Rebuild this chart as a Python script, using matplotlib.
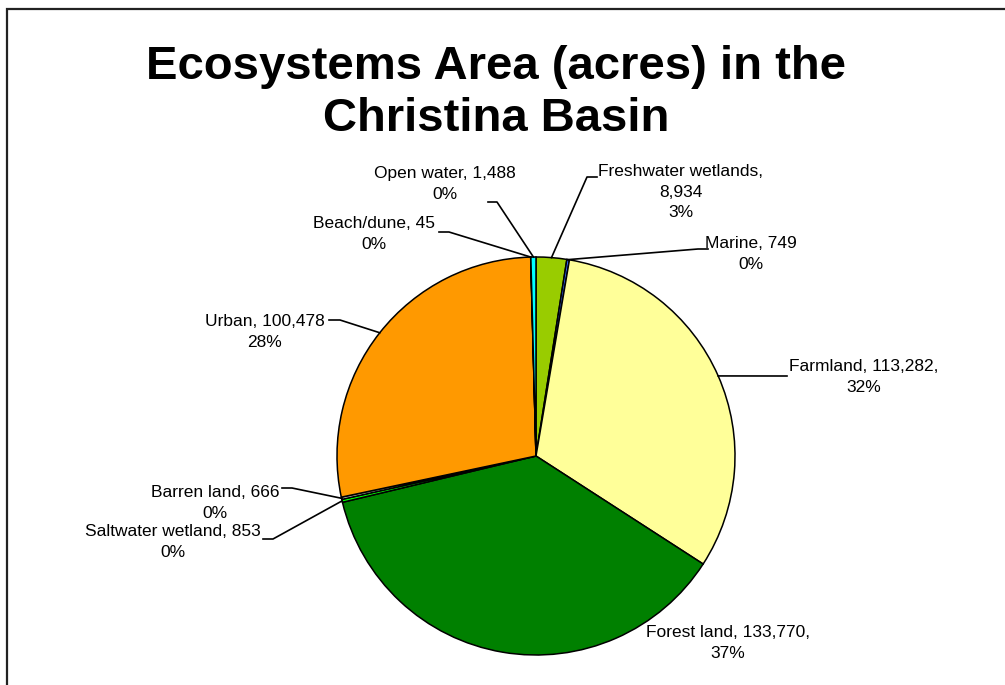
import numpy as np
import matplotlib
matplotlib.use("Agg")
import matplotlib.pyplot as plt

# data, clockwise from 12 o'clock
names = ["Freshwater wetlands", "Marine", "Farmland", "Forest land",
         "Saltwater wetland", "Barren land", "Urban", "Beach/dune", "Open water"]
acres = [8934, 749, 113282, 133770, 853, 666, 100478, 45, 1488]
pcts = ["3%", "0%", "32%", "37%", "0%", "0%", "28%", "0%", "0%"]
colors = ["#99CC00", "#3366FF", "#FFFF99", "#008000", "#00FF00",
          "#D0D0D0", "#FF9900", "#FFCC99", "#00FFFF"]

W, H = 1005, 685
plt.rcParams['font.family'] = ['Liberation Sans', 'DejaVu Sans']

fig = plt.figure(figsize=(W / 100, H / 100), dpi=100)
ax = fig.add_axes([0, 0, 1, 1])

cx, cy, r = 536, H - 456, 199
wedges, _ = ax.pie(acres, colors=colors, startangle=90, counterclock=False,
                   center=(cx, cy), radius=r,
                   wedgeprops=dict(edgecolor="black", linewidth=1.1))

# label layout in pixels (top-left origin): text centre, leader elbow, leader end
# style: 0 -> "name, value\npct", 1 -> "name, value,\npct", 2 -> "name,\nvalue\npct"
layout = [
    ((681, 192), [(587, 177), (597, 177)], 2),
    ((751, 254), [(698, 249), (708, 249)], 0),
    ((864, 377), [(778, 376), (787, 376)], 1),
    ((728, 643), None, 1),
    ((173, 542), [(273, 539), (263, 539)], 0),
    ((215, 503), [(292, 488), (282, 488)], 0),
    ((265, 332), [(340, 320), (329, 320)], 0),
    ((374, 234), [(449, 232), (439, 232)], 0),
    ((445, 184), [(497, 202), (488, 202)], 0),
]

for w, name, val, pct, (pos, lead, style) in zip(wedges, names, acres, pcts, layout):
    if style == 0:
        txt = f"{name}, {val:,}\n{pct}"
    elif style == 1:
        txt = f"{name}, {val:,},\n{pct}"
    else:
        txt = f"{name},\n{val:,}\n{pct}"
    ax.text(pos[0], H - pos[1], txt, ha="center", va="center",
            fontsize=12.5, color="black", linespacing=1.42)
    if lead:
        ang = np.deg2rad((w.theta1 + w.theta2) / 2)
        xs = [cx + r * np.cos(ang)] + [p[0] for p in lead]
        ys = [cy + r * np.sin(ang)] + [H - p[1] for p in lead]
        ax.plot(xs, ys, color="black", linewidth=1.2)

# title
fig.text(496 / W, 1 - 79 / H, "Ecosystems Area (acres) in the", ha="center",
         va="baseline", fontsize=34, fontweight="bold")
fig.text(496 / W, 1 - 131 / H, "Christina Basin", ha="center",
         va="baseline", fontsize=34, fontweight="bold")

# chart frame (cropped)
ax.plot([7, 7, W + 5], [-5, H - 9, H - 9], color="#222222", linewidth=1.6,
        solid_joinstyle="miter")

ax.set_xlim(0, W)
ax.set_ylim(0, H)
ax.set_aspect("auto")
ax.axis("off")

fig.savefig("out.png", dpi=100)
